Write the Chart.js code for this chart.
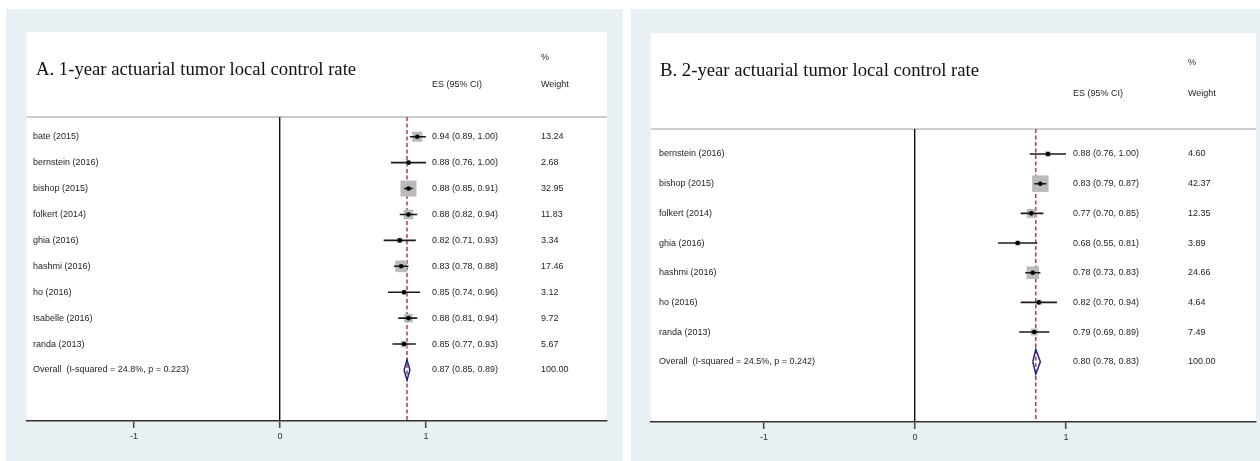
<!DOCTYPE html>
<html>
<head>
<meta charset="utf-8">
<script src="https://cdn.jsdelivr.net/npm/chart.js@4/dist/chart.umd.min.js"></script>
<style>
  html, body { margin: 0; padding: 0; background: #ffffff; }
  #wrap { position: relative; width: 1260px; height: 461px; overflow: hidden; }
  .panel { position: absolute; top: 0; width: 630px; height: 461px; }
</style>
</head>
<body>
<div id="wrap">
  <div class="panel" style="left:0"><canvas id="chartA" width="630" height="461"></canvas></div>
  <div class="panel" style="left:630px"><canvas id="chartB" width="630" height="461"></canvas></div>
</div>
<script>
// ---- Panel A: 1-year actuarial tumor local control ----
const titleA   = 'A. 1-year actuarial tumor local control rate';
const studiesA = ['bate (2015)', 'bernstein (2016)', 'bishop (2015)', 'folkert (2014)', 'ghia (2016)',
                  'hashmi (2016)', 'ho (2016)', 'Isabelle (2016)', 'randa (2013)'];
const esA      = [0.94, 0.88, 0.88, 0.88, 0.82, 0.83, 0.85, 0.88, 0.85];
const loA      = [0.89, 0.76, 0.85, 0.82, 0.71, 0.78, 0.74, 0.81, 0.77];
const hiA      = [1.00, 1.00, 0.91, 0.94, 0.93, 0.88, 0.96, 0.94, 0.93];
const weightA  = [13.24, 2.68, 32.95, 11.83, 3.34, 17.46, 3.12, 9.72, 5.67];
const overallA = [0.87, 0.85, 0.89];   // pooled ES, lower, upper
const hetA     = [24.8, 0.223];        // I-squared (%), p

// ---- Panel B: 2-year actuarial tumor local control ----
const titleB   = 'B. 2-year actuarial tumor local control rate';
const studiesB = ['bernstein (2016)', 'bishop (2015)', 'folkert (2014)', 'ghia (2016)',
                  'hashmi (2016)', 'ho (2016)', 'randa (2013)'];
const esB      = [0.88, 0.83, 0.77, 0.68, 0.78, 0.82, 0.79];
const loB      = [0.76, 0.79, 0.70, 0.55, 0.73, 0.70, 0.69];
const hiB      = [1.00, 0.87, 0.85, 0.81, 0.83, 0.94, 0.89];
const weightB  = [4.60, 42.37, 12.35, 3.89, 24.66, 4.64, 7.49];
const overallB = [0.80, 0.78, 0.83];
const hetB     = [24.5, 0.242];

const xTicks = [-1, 0, 1];

// ---- geometry and styling of each panel ----
const layoutA = {
  bg: [6, 9, 623, 461], whiteTop: 32,
  padding: { left: 27, right: 23, top: 117, bottom: 0 }, axisHeight: 40,
  xMin: -1.733, xMax: 2.240, yMin: 0.240, yMax: 11.968,
  titleX: 36, titleBase: 75, pctY: 58, headY: 85,
  labelX: 33, esX: 432, wX: 541, boxMax: 16, diamondHalf: 0.39
};
const layoutB = {
  bg: [1, 9, 630, 461], whiteTop: 33,
  padding: { left: 21, right: 4, top: 129, bottom: 0 }, axisHeight: 39,
  xMin: -1.748, xMax: 2.258, yMin: 0.157, yMax: 10.032,
  titleX: 30, titleBase: 76, pctY: 63, headY: 94,
  labelX: 29, esX: 443, wX: 558, boxMax: 16.5, diamondHalf: 0.42
};

const SMALL_FONT = '9px "Liberation Sans", Arial, sans-serif';
const TITLE_FONT = '18.7px "Liberation Serif", "Times New Roman", serif';
const TEXT_COLOR = '#1e1e1e';

function fmt(v) { return v.toFixed(2); }

function buildForest(canvasId, title, studies, es, lo, hi, weight, overall, het, L) {
  const n = studies.length;
  const overallRow = n + 1;
  const maxW = Math.max(...weight);

  // confidence-interval segments, separated by gaps
  const ciData = [];
  for (let i = 0; i < n; i++) {
    ciData.push({ x: lo[i], y: i + 1 }, { x: hi[i], y: i + 1 }, { x: null, y: null });
  }
  const boxData = es.map((v, i) => ({ x: v, y: i + 1 }));
  const boxRadius = weight.map(w => L.boxMax * Math.sqrt(w / maxW) / Math.SQRT2);
  const diamond = [
    { x: overall[1], y: overallRow },
    { x: overall[0], y: overallRow - L.diamondHalf },
    { x: overall[2], y: overallRow },
    { x: overall[0], y: overallRow + L.diamondHalf },
    { x: overall[1], y: overallRow }
  ];
  const pooledLine = [{ x: overall[0], y: L.yMin }, { x: overall[0], y: L.yMax }];

  const framePlugin = {
    id: 'forestFrame',
    beforeDraw(chart) {
      const { ctx, chartArea: a } = chart;
      ctx.save();
      ctx.fillStyle = '#e9f0f3';
      ctx.fillRect(L.bg[0], L.bg[1], L.bg[2] - L.bg[0], L.bg[3] - L.bg[1]);
      ctx.fillStyle = '#ffffff';
      ctx.fillRect(a.left, L.whiteTop, a.right - a.left, a.bottom - L.whiteTop);
      ctx.strokeStyle = '#cdcdcd';
      ctx.lineWidth = 2;
      ctx.beginPath();
      ctx.moveTo(a.left, a.top);
      ctx.lineTo(a.right, a.top);
      ctx.stroke();
      ctx.restore();
    },
    afterDraw(chart) {
      const { ctx } = chart;
      const yS = chart.scales.y;
      ctx.save();
      ctx.fillStyle = '#111111';
      ctx.font = TITLE_FONT;
      ctx.textBaseline = 'alphabetic';
      ctx.textAlign = 'left';
      ctx.fillText(title, L.titleX, L.titleBase);

      ctx.font = SMALL_FONT;
      ctx.fillStyle = TEXT_COLOR;
      ctx.textBaseline = 'middle';
      ctx.fillText('%', L.wX, L.pctY);
      ctx.fillText('ES (95% CI)', L.esX, L.headY);
      ctx.fillText('Weight', L.wX, L.headY);

      for (let i = 0; i < n; i++) {
        const y = yS.getPixelForValue(i + 1);
        ctx.fillText(studies[i], L.labelX, y);
        ctx.fillText(fmt(es[i]) + ' (' + fmt(lo[i]) + ', ' + fmt(hi[i]) + ')', L.esX, y);
        ctx.fillText(fmt(weight[i]), L.wX, y);
      }
      const yo = yS.getPixelForValue(overallRow);
      ctx.fillText('Overall  (I-squared = ' + het[0].toFixed(1) + '%, p = ' + het[1].toFixed(3) + ')', L.labelX, yo);
      ctx.fillText(fmt(overall[0]) + ' (' + fmt(overall[1]) + ', ' + fmt(overall[2]) + ')', L.esX, yo);
      ctx.fillText((100).toFixed(2), L.wX, yo);
      ctx.restore();
    }
  };

  return new Chart(document.getElementById(canvasId), {
    type: 'scatter',
    data: {
      datasets: [
        { // study point estimates
          data: boxData, order: 0,
          pointStyle: 'circle', pointRadius: 2.3, pointHoverRadius: 2.3,
          backgroundColor: '#000000', borderWidth: 0, pointBorderWidth: 0
        },
        { // 95% CI bars
          data: ciData, order: 1, showLine: true, spanGaps: false,
          borderColor: '#1b1b1b', borderWidth: 1.6, pointRadius: 0, pointHoverRadius: 0
        },
        { // pooled estimate diamond
          data: diamond, order: 1, showLine: true, fill: false, tension: 0,
          borderColor: '#23238c', borderWidth: 1.5, pointRadius: 0, pointHoverRadius: 0
        },
        { // weight boxes
          data: boxData, order: 2,
          pointStyle: 'rect', pointRadius: boxRadius, pointHoverRadius: boxRadius,
          backgroundColor: '#bababa', borderWidth: 0, pointBorderWidth: 0
        },
        { // pooled estimate reference line
          data: pooledLine, order: 3, showLine: true,
          borderColor: '#a8343e', borderWidth: 1.4, borderDash: [4, 2.5],
          pointRadius: 0, pointHoverRadius: 0
        }
      ]
    },
    options: {
      responsive: false,
      animation: false,
      devicePixelRatio: 1,
      events: [],
      layout: { padding: L.padding, autoPadding: false },
      plugins: { legend: { display: false }, tooltip: { enabled: false } },
      scales: {
        x: {
          type: 'linear', position: 'bottom',
          min: L.xMin, max: L.xMax,
          afterBuildTicks(scale) { scale.ticks = xTicks.map(v => ({ value: v })); },
          afterFit(scale) { scale.height = L.axisHeight; },
          ticks: { font: { family: '"Liberation Sans", Arial, sans-serif', size: 9 }, color: '#333333', padding: 3, maxRotation: 0 },
          grid: {
            drawOnChartArea: true, drawTicks: true, tickLength: 7,
            color: ctx => (ctx.tick && ctx.tick.value === 0) ? '#111111' : 'rgba(0,0,0,0)',
            lineWidth: 1.4, tickColor: '#4a4a4a', tickWidth: 1.6
          },
          border: { display: true, color: '#333333', width: 1.5 }
        },
        y: {
          type: 'linear', reverse: true, display: false,
          min: L.yMin, max: L.yMax
        }
      }
    },
    plugins: [framePlugin]
  });
}

buildForest('chartA', titleA, studiesA, esA, loA, hiA, weightA, overallA, hetA, layoutA);
buildForest('chartB', titleB, studiesB, esB, loB, hiB, weightB, overallB, hetB, layoutB);
</script>
</body>
</html>
